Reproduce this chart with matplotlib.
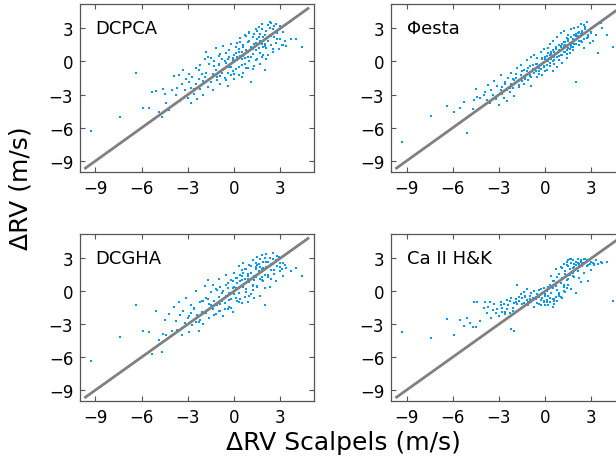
import matplotlib
matplotlib.use("Agg")
import matplotlib.pyplot as plt

# shared x: ΔRV from Scalpels (m/s)
xs = [
    -9.3, -7.4, -6.4,
    -5.9, -5.5, -5.3, -5.1, -4.9, -4.7, -4.6, -4.5, -4.4, -4.2, -4.0,
    -3.9, -3.8, -3.7, -3.6, -3.5, -3.4, -3.3, -3.2, -3.1, -3.0, -2.9, -2.8, -2.8,
    -2.7, -2.6, -2.5, -2.5, -2.4, -2.3, -2.2, -2.2, -2.1, -2.0, -2.0, -1.9,
    -1.8, -1.8, -1.7, -1.6, -1.6, -1.5, -1.4, -1.4, -1.3, -1.2, -1.2, -1.1, -1.0, -1.0,
    -0.9, -0.9, -0.8, -0.7, -0.7, -0.6, -0.5, -0.5, -0.4, -0.4, -0.3, -0.3, -0.2, -0.2,
    -0.1, -0.1, 0.0, 0.0,
    0.1, 0.1, 0.2, 0.2, 0.3, 0.3, 0.4, 0.4, 0.5, 0.5, 0.6, 0.6, 0.7, 0.7, 0.8, 0.8,
    0.9, 0.9, 1.0, 1.0, 1.1, 1.1, 1.2, 1.2, 1.3, 1.3, 1.4, 1.4, 1.5, 1.5, 1.6, 1.6,
    1.7, 1.7, 1.8, 1.8, 1.9, 1.9, 2.0, 2.0,
    2.1, 2.1, 2.2, 2.2, 2.3, 2.3, 2.4, 2.5, 2.5, 2.6, 2.7, 2.7, 2.8, 2.9, 3.0, 3.0,
    3.1, 3.2, 3.3, 3.4,
    3.6, 3.7, 4.0, 4.4,
    -2.9, -2.6, -2.3, -2.1, -1.9, -1.7, -1.5, -1.3, -1.1, -0.9, -0.8, -0.6, -0.5, -0.3,
    -0.2, -0.1, 0.0, 0.1, 0.2, 0.3, 0.4, 0.5, 0.6, 0.7, 0.8, 0.9, 1.0, 1.1, 1.2, 1.3,
    1.4, 1.5, 1.6, 1.7, 1.8, 1.9, 2.0, 2.1, 2.2, 2.3, 2.4, 2.5, 2.6, 2.8, 3.0, 3.2,
    0.6, 1.0, 1.4, 1.8, -0.4, 0.9, 1.5, 2.0, 0.3, 1.2, 1.7, -1.0, 2.4, 0.5,
]

y_dcpca = [
    -6.3, -5.0, -1.0,
    -4.2, -4.2, -2.8, -2.7, -4.6, -5.0, -2.5, -2.9, -3.8, -4.4, -2.6,
    -1.3, -3.0, -2.4, -1.2, -3.6, -2.0, -0.8, -2.6, -1.6, -3.3, -1.1, -2.4, -3.8,
    -1.4, -2.9, -0.6, -2.0, -3.4, -1.6, -0.3, -2.5, -1.1, -3.0, -1.8, 0.2,
    -1.0, 0.9, -2.3, -0.2, -1.6, 0.3, -1.1, -2.6, 0.0, -0.8, 1.2, -1.7, -0.3, 0.5,
    -1.3, -2.0, 0.2, -0.7, 1.4, -1.5, -0.1, 0.8, -1.0, -2.2, 0.4, -0.5, 1.6, -1.2,
    0.1, -0.9, 0.6, -1.6,
    0.8, -0.7, 1.7, 0.1, -1.2, 1.1, 0.5, 2.1, -0.3, 0.9, 1.5, -1.0, 0.3, 2.4, 1.0, -0.6,
    1.8, 0.4, 2.7, 0.0, 1.3, -1.9, 2.2, 0.7, 1.6, -0.4, 2.9, 1.0, 0.2, 2.0, 3.1, 1.2,
    -0.2, 2.5, 1.6, 3.4, 0.6, 2.2, 1.4, -0.8,
    2.8, 1.2, 3.3, 0.6, 2.4, 3.6, 1.5, 2.9, 0.9, 2.2, 3.4, 1.7, 2.6, 1.1, 3.2, 2.0,
    1.5, 2.7, 1.9, 1.4,
    3.6, 2.0, 2.0, 1.3,
    -1.9, -2.5, -0.8, -2.0, -1.4, 0.4, -1.9, -0.4, -1.4, 0.7, -1.0, 0.0, -1.7, 1.0,
    -0.5, 0.3, -1.1, 1.3, 0.4, -0.5, 1.8, 0.2, 1.3, -0.2, 2.3, 0.9, 1.9, 0.4, 1.1, 2.5,
    0.1, 1.5, 2.2, 0.8, 2.9, 1.3, 2.4, 0.2, 1.9, 3.0, 2.3, 1.1, 3.2, 2.0, 2.9, 1.5,
    0.5, 2.6, 1.7, 0.4, 0.2, -0.6, 2.8, 1.6, 0.9, -0.7, 1.9, -0.2, 3.5, -1.4,
]

y_phiesta = [
    -7.3, -4.9, -4.0,
    -4.6, -4.2, -3.7, -6.5, -4.8, -4.3, -3.5, -2.5, -3.2, -3.3, -3.0,
    -2.8, -3.5, -2.1, -3.8, -2.6, -3.0, -1.8, -3.4, -2.2, -3.9, -1.2, -2.9, -2.3,
    -3.3, -1.9, -2.6, -3.6, -1.5, -2.8, -2.0, -1.0, -2.4, -3.1, -1.7, -1.1,
    -1.9, -0.6, -2.3, -1.2, -0.3, -1.8, -0.8, -2.0, -1.5, 0.1, -0.9, -1.7, -0.4, -1.3,
    0.4, -2.2, -0.7, -1.0, 0.6, -0.2, -1.4, 0.3, -0.6, -1.1, 0.9, -0.3, 0.2, -1.2,
    1.1, -0.5, 0.4, -0.9,
    0.5, -0.8, 1.2, 0.0, -0.4, 1.6, 0.2, 0.9, -0.9, 1.9, 0.4, -0.2, 1.3, 0.7, 2.2, -0.5,
    1.0, 0.1, 2.6, 1.4, 0.6, -0.1, 1.8, 2.8, 0.9, 1.5, 2.1, 0.3, 1.2, 2.4, 1.7, 0.8,
    2.9, 1.3, 2.0, 1.0, 3.0, 1.6, 2.3, -1.9,
    2.3, 3.1, 1.5, 2.7, 3.4, 1.9, 2.6, 3.3, 1.2, 2.9, 2.1, 3.6, 2.4, 1.7, 3.0, 2.6,
    1.9, 3.2, 2.4, 0.8,
    3.5, 3.0, 2.4, 1.3,
    -2.6, -2.0, -2.4, -1.6, -1.5, -2.1, -0.9, -1.6, -0.6, -1.4, -0.3, -0.9, -0.2, -0.7,
    0.3, -0.4, 0.2, -0.3, 0.8, -0.1, 0.7, 1.0, 0.1, 1.1, 0.4, 1.5, 0.6, 1.6, 0.9, 1.8,
    0.7, 2.0, 1.1, 2.2, 1.3, 2.4, 1.6, 2.6, 1.9, 2.5, 2.8, 2.0, 3.1, 2.2, 2.7, 3.2,
    0.9, 1.3, 1.0, 1.7, -0.9, 0.5, 1.9, 2.5, 0.6, 1.4, 1.5, -1.2, 1.8, 0.0,
]

y_dcgha = [
    -6.4, -4.2, -1.3,
    -3.6, -3.7, -5.7, -1.8, -4.4, -5.5, -3.9, -2.6, -4.0, -2.1, -3.6,
    -1.4, -2.7, -3.5, -1.0, -2.2, -4.0, -1.8, -2.9, -0.6, -2.4, -3.7, -1.3, -2.0,
    -3.1, -1.6, -2.8, 0.0, -2.2, -3.6, -1.0, -2.6, -1.9, -0.9, -3.0, 0.5,
    -0.6, -2.0, 1.0, -1.2, -2.4, -0.1, -1.6, 0.6, -0.9, -2.1, 0.2, -1.3, 1.1, -0.5,
    -1.8, 0.4, -0.9, -2.3, 0.0, -1.1, 1.5, -0.4, -1.6, 0.7, -0.2, -1.4, 1.0, -0.7,
    0.3, -1.9, 1.7, -0.3,
    0.3, 1.2, -0.9, 0.7, 2.3, -0.2, 1.5, 0.9, -1.1, 1.9, 0.4, 2.6, -0.5, 1.1, 0.2, 2.0,
    -1.0, 1.4, 0.8, 2.4, -0.3, 1.7, 0.5, 2.8, 1.0, -0.6, 2.2, 1.3, 3.1, 0.4, 1.8, 2.5,
    -0.4, 1.1, 3.3, 2.0, 0.9, 2.7, 1.5, -1.3,
    2.2, 3.4, 1.3, 2.7, 0.4, 3.0, 1.9, 2.5, 3.5, 1.6, 2.8, 0.9, 2.3, 3.1, 1.8, 2.6,
    2.0, 1.4, 2.4, 2.1,
    3.7, 1.8, 2.1, 1.4,
    -2.3, -1.5, -2.8, -0.9, -2.0, -0.7, -1.3, -2.2, 0.1, -1.2, -0.2, -1.6, 0.6, -0.8,
    -1.5, 0.9, 0.4, -0.6, 1.2, 0.3, -0.7, 1.4, 0.6, 2.0, -0.1, 1.6, 0.9, 2.3, 0.1, 1.4,
    2.6, 0.5, 1.8, 2.9, 1.0, 2.1, 0.3, 2.7, 1.5, 2.3, 1.1, 2.9, 1.9, 3.2, 2.2, 2.6,
    1.7, -0.4, 2.0, 1.3, 0.3, 1.1, 2.4, 3.0, -1.0, 0.6, 2.2, -1.8, 2.5, 1.0,
]

y_cahk = [
    -3.7, -4.3, -2.5,
    -4.0, -2.6, -3.2, -2.4, -2.9, -3.3, -1.0, -3.3, -1.0, -2.7, -1.5,
    -1.0, -2.0, -1.4, -1.0, -2.4, -1.7, -1.2, -2.0, -1.6, -2.3, -1.0, -1.5, -1.9,
    -1.2, -2.1, -0.8, -1.6, -1.3, -2.0, -0.6, -3.4, -1.8, -1.1, -3.6, -0.7,
    -1.2, 0.6, -0.9, -0.3, -1.5, -0.6, -0.1, -1.1, -0.5, -0.8, 0.2, -1.3, -0.4, -0.9,
    -0.2, -1.0, -0.6, -1.4, 0.0, -0.7, -0.3, -1.1, -0.5, 0.1, -0.8, -1.3, -0.2, -0.6,
    -1.0, 0.3, -0.4, -1.3,
    -0.8, 0.0, -1.3, -0.4, 0.6, -1.0, -0.2, 1.4, -0.7, 0.3, -1.2, 0.9, -0.5, 2.0, 0.1, -0.9,
    1.6, -0.3, 0.7, 2.2, -0.6, 1.2, 2.5, 0.4, 1.8, -0.1, 2.7, 1.0, 2.3, 0.6, 2.9, 1.5,
    2.6, 0.2, 2.1, 2.8, 1.3, 2.5, -0.2, 2.7,
    2.6, 2.9, 1.2, 2.4, 2.7, 0.8, 2.5, 2.9, 1.7, 2.6, 2.3, 2.8, 0.9, 2.5, 2.7, 1.9,
    2.6, 2.4, 2.8, 2.5,
    2.7, 2.6, 2.7, -0.9,
    -1.3, -1.9, -0.9, -1.5, -1.0, -0.5, -1.2, -0.4, -1.0, -0.2, -0.8, -0.5, -1.1, 0.2,
    -0.6, -0.9, -0.3, -1.0, 0.4, -0.6, -0.2, 0.9, -0.7, 0.5, 1.3, -0.4, 1.0, 2.1, 0.0, 1.6,
    2.4, 1.1, 2.0, 2.6, 1.4, 2.2, 2.7, 1.8, 2.5, 2.8, 2.3, 2.6, 2.9, 2.4, 2.7, 2.5,
    -0.9, -0.5, 0.3, 1.7, -1.2, -0.2, 2.8, 2.4, -0.6, 0.6, 2.9, -0.7, 2.6, -1.4,
]

labels = ["DCPCA", "\u03a6esta", "DCGHA", "Ca II H&K"]
ticks = [-9, -6, -3, 0, 3]
one_to_one = [-9.65, 4.8]

# panel boxes in figure fractions (right column runs off the canvas)
boxes = [
    [0.130, 0.624, 0.380, 0.365],
    [0.635, 0.624, 0.380, 0.365],
    [0.130, 0.126, 0.380, 0.363],
    [0.635, 0.126, 0.380, 0.363],
]

fig = plt.figure(figsize=(6.16, 4.6), dpi=100)

for box, lab, ys in zip(boxes, labels, [y_dcpca, y_phiesta, y_dcgha, y_cahk]):
    ax = fig.add_axes(box)
    ax.scatter(xs, ys, s=3, c="#009AFA", marker="s", linewidths=0, zorder=2)
    ax.plot(one_to_one, one_to_one, color="#808080", lw=2, zorder=3)
    ax.set_xlim(-10.0, 5.2)
    ax.set_ylim(-10.0, 5.2)
    ax.set_xticks(ticks)
    ax.set_yticks(ticks)
    ax.tick_params(direction="in", length=3.5, width=0.8, color="#555555",
                   labelsize=12, top=True, right=True, pad=5)
    for sp in ax.spines.values():
        sp.set_color("#555555")
        sp.set_linewidth(0.9)
    ax.text(-9.0, 3.0, lab, fontsize=13, ha="left", va="center")

fig.text(0.034, 0.59, "\u0394RV (m/s)", rotation=90, fontsize=18,
         ha="center", va="center")
fig.text(0.558, 0.036, "\u0394RV Scalpels (m/s)", fontsize=18,
         ha="center", va="center")

fig.savefig("out.png", dpi=100)
